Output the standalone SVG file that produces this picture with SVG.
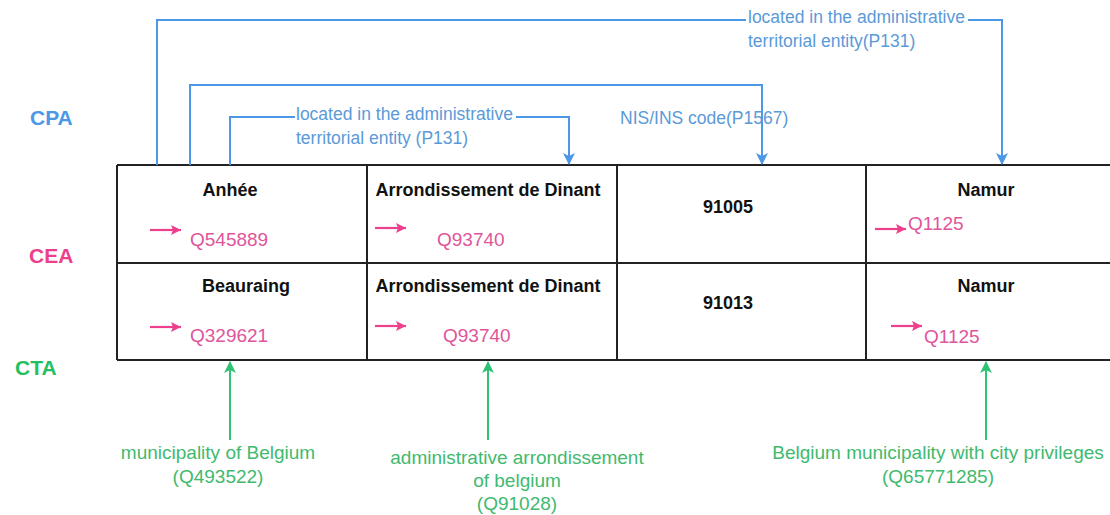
<svg xmlns="http://www.w3.org/2000/svg" width="1110" height="515" viewBox="0 0 1110 515">
<style>
.lbl{font-family:"Liberation Sans",Arial,sans-serif;font-weight:bold;font-size:21px}
.cell{font-family:"Liberation Sans",Arial,sans-serif;font-weight:bold;font-size:18px;fill:#111;text-anchor:middle}
.q{font-family:"Liberation Sans",Arial,sans-serif;font-size:19px;fill:#e0559a}
.bt{font-family:"Liberation Sans",Arial,sans-serif;font-size:17.5px;fill:#5b9ad8}
.gt{font-family:"Liberation Sans",Arial,sans-serif;font-size:19px;fill:#3fba6e;text-anchor:middle}
.bl{fill:none;stroke:#4a98e6;stroke-width:2}
.gl{fill:none;stroke:#2fc174;stroke-width:2}
.pl{fill:none;stroke:#ec3f8c;stroke-width:2.2}
.grid{fill:none;stroke:#222;stroke-width:2}
</style>
<defs>
<marker id="ab" markerWidth="12" markerHeight="12" refX="11" refY="6" orient="auto" markerUnits="userSpaceOnUse"><path d="M0,0 L12,6 L0,12 L3,6 Z" fill="#4a98e6"/></marker>
<marker id="ag" markerWidth="12" markerHeight="12" refX="11" refY="6" orient="auto" markerUnits="userSpaceOnUse"><path d="M0,0 L12,6 L0,12 L3,6 Z" fill="#2fc174"/></marker>
<marker id="ap" markerWidth="11" markerHeight="12" refX="10" refY="6" orient="auto" markerUnits="userSpaceOnUse"><path d="M0,1 L10,6 L0,11 L2,6 Z" fill="#ec3f8c"/></marker>
</defs>
<rect width="1110" height="515" fill="#fff"/>

<g id="row-labels">
<text class="lbl" x="30" y="125" fill="#4a98e6">CPA</text>
<text class="lbl" x="29" y="263" fill="#ec3f8c">CEA</text>
<text class="lbl" x="15" y="375" fill="#22c063">CTA</text>
</g>

<g id="table">
<path class="grid" d="M117,165 H1116 M117,263 H1116 M117,360 H1116 M117,165 V360 M367,165 V360 M617,165 V360 M866,165 V360"/>
</g>

<g id="cell-anhee">
<text class="cell" x="230" y="196">Anhée</text>
<path class="pl" d="M150,230 H181" marker-end="url(#ap)"/>
<text class="q" x="190" y="246">Q545889</text>
</g>
<g id="cell-dinant-1">
<text class="cell" x="488" y="196">Arrondissement de Dinant</text>
<path class="pl" d="M375,228 H406" marker-end="url(#ap)"/>
<text class="q" x="437" y="246">Q93740</text>
</g>
<g id="cell-91005">
<text class="cell" x="728" y="213">91005</text>
</g>
<g id="cell-namur-1">
<text class="cell" x="986" y="196">Namur</text>
<path class="pl" d="M875,229 H906" marker-end="url(#ap)"/>
<text class="q" x="908" y="230">Q1125</text>
</g>
<g id="cell-beauraing">
<text class="cell" x="246" y="292">Beauraing</text>
<path class="pl" d="M150,327 H181" marker-end="url(#ap)"/>
<text class="q" x="190" y="342">Q329621</text>
</g>
<g id="cell-dinant-2">
<text class="cell" x="488" y="292">Arrondissement de Dinant</text>
<path class="pl" d="M375,326 H406" marker-end="url(#ap)"/>
<text class="q" x="443" y="342">Q93740</text>
</g>
<g id="cell-91013">
<text class="cell" x="728" y="309">91013</text>
</g>
<g id="cell-namur-2">
<text class="cell" x="986" y="292">Namur</text>
<path class="pl" d="M891,326 H922" marker-end="url(#ap)"/>
<text class="q" x="924" y="343">Q1125</text>
</g>

<g id="connectors">
<path class="bl" d="M157,165 V20 H746 M968,20 H1002 V164" marker-end="url(#ab)"/>
<path class="bl" d="M190,165 V85 H762 V164" marker-end="url(#ab)"/>
<path class="bl" d="M230,165 V117 H295 M516,117 H569 V164" marker-end="url(#ab)"/>
<path class="gl" d="M230,440 V362" marker-end="url(#ag)"/>
<path class="gl" d="M488,440 V362" marker-end="url(#ag)"/>
<path class="gl" d="M986,440 V362" marker-end="url(#ag)"/>
</g>

<g id="connector-labels">
<text class="bt" x="748" y="23">located in the administrative</text>
<text class="bt" x="748" y="47">territorial entity(P131)</text>
<text class="bt" x="620" y="124">NIS/INS code(P1567)</text>
<text class="bt" x="296" y="120">located in the administrative</text>
<text class="bt" x="296" y="144">territorial entity (P131)</text>
<text class="gt" x="218" y="459">municipality of Belgium</text>
<text class="gt" x="218" y="483">(Q493522)</text>
<text class="gt" x="517" y="464">administrative arrondissement</text>
<text class="gt" x="517" y="487">of belgium</text>
<text class="gt" x="517" y="510">(Q91028)</text>
<text class="gt" x="938" y="459">Belgium municipality with city privileges</text>
<text class="gt" x="938" y="483">(Q65771285)</text>
</g>
</svg>
